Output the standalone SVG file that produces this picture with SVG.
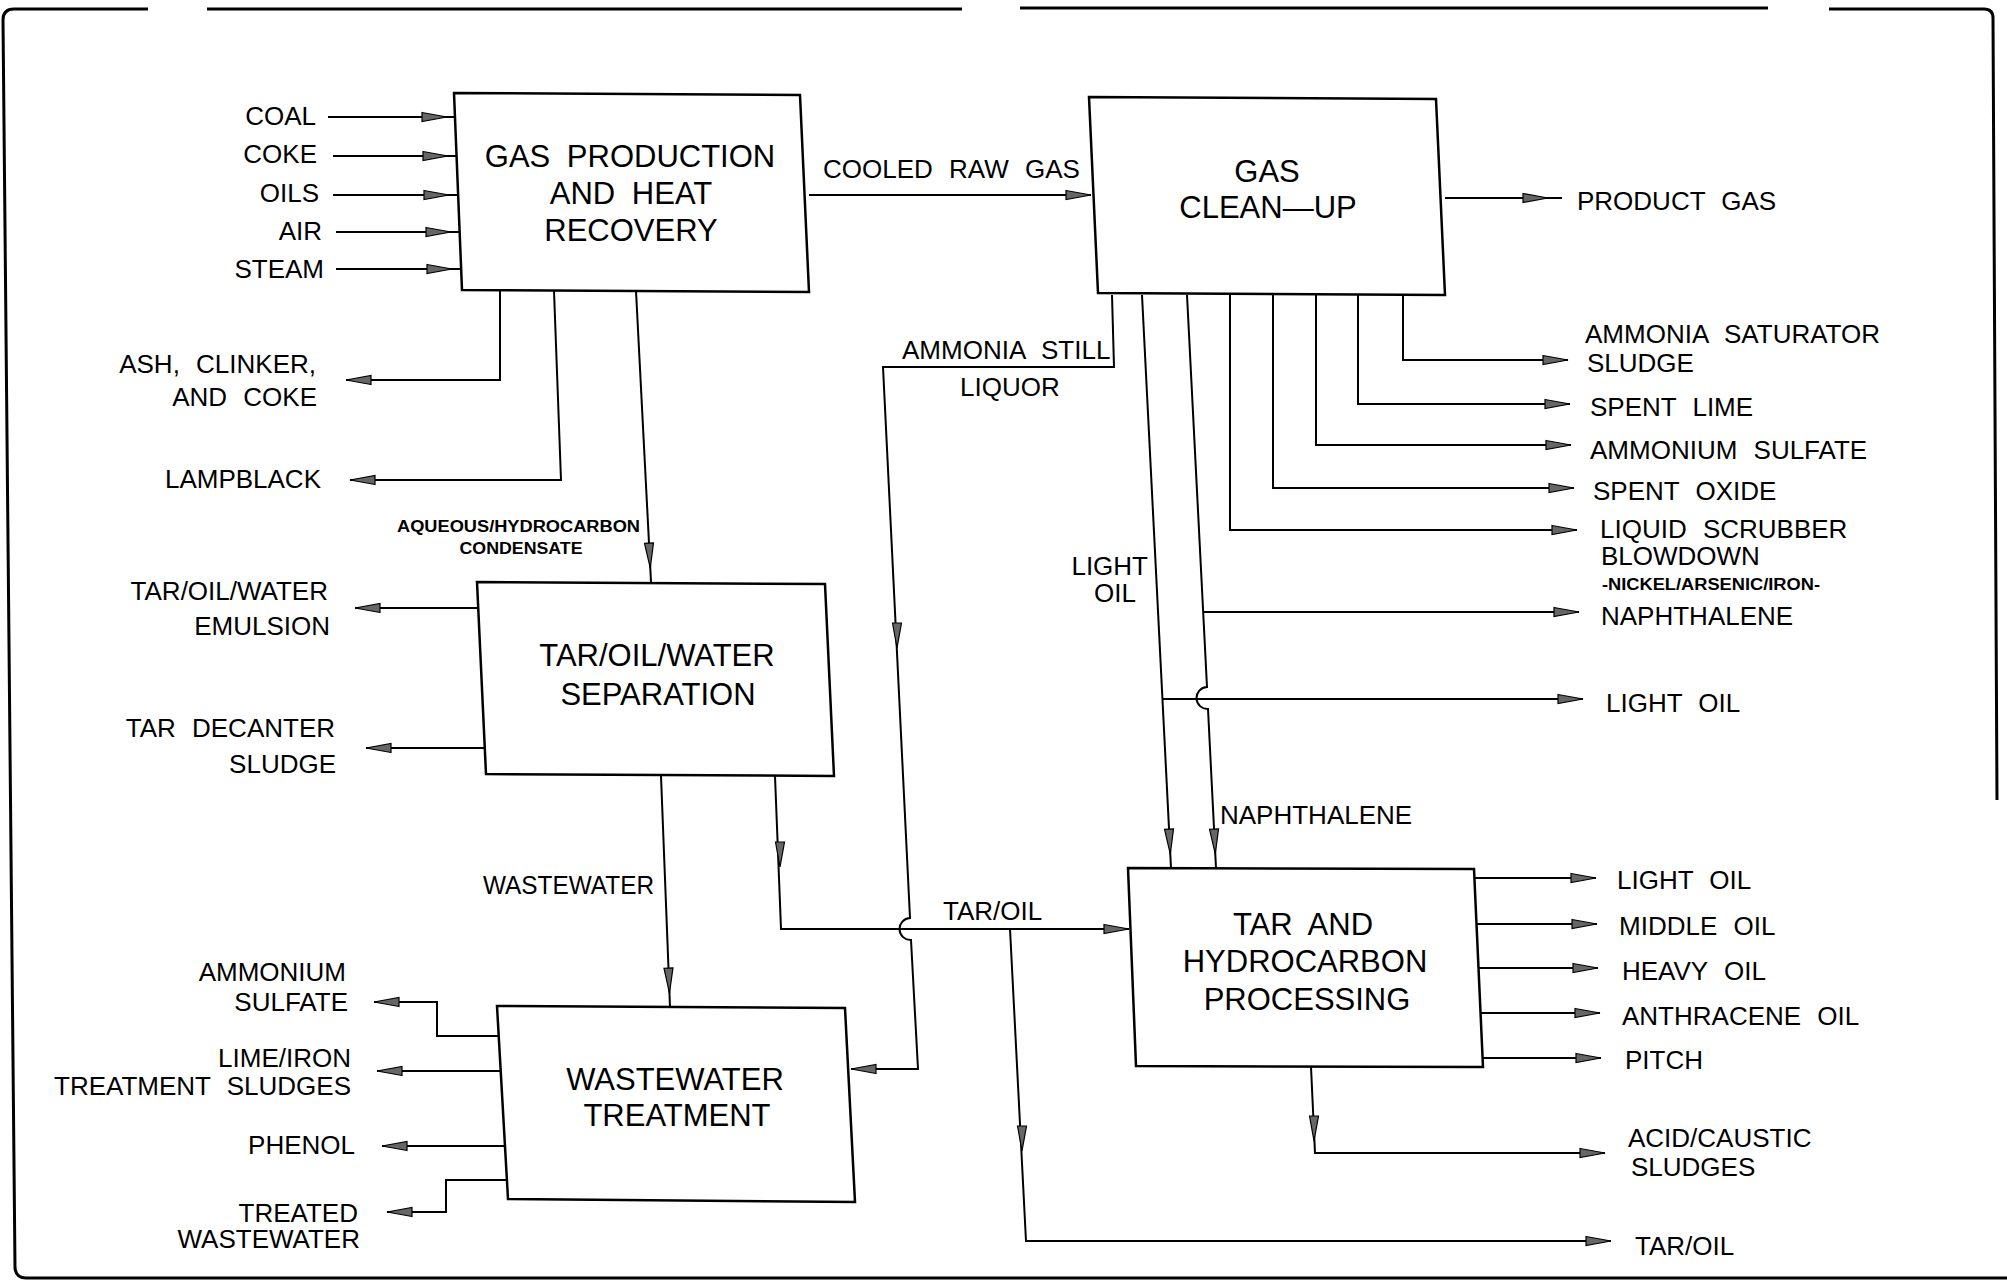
<svg xmlns="http://www.w3.org/2000/svg" xmlns:xlink="http://www.w3.org/1999/xlink" width="2007" height="1281" viewBox="0 0 2007 1281">
<style>
.ln{fill:none;stroke:#000;stroke-width:2}
.bx{fill:#fff;stroke:#000;stroke-width:2.5}
.fr{fill:none;stroke:#000;stroke-width:3}
.ah{fill:#666;stroke:#000;stroke-width:1.2}
text{font-family:'Liberation Sans',Arial,sans-serif;font-size:26px;fill:#000;word-spacing:9px}
.b{font-size:31px;text-anchor:middle;word-spacing:8px}
.e{text-anchor:end}
.m{text-anchor:middle}
.s{font-size:16px;font-weight:bold;word-spacing:0}
</style>
<defs>
<marker id="arr" markerUnits="userSpaceOnUse" viewBox="-1 -1 28 11" markerWidth="28" markerHeight="11" refX="25" refY="4.5" orient="auto" overflow="visible"><path class="ah" d="M0,0 L25,4.5 L0,9 Z"/></marker>
<marker id="arrm" markerUnits="userSpaceOnUse" viewBox="-1 -1 28 11" markerWidth="28" markerHeight="11" refX="39" refY="4.5" orient="auto" overflow="visible"><path class="ah" d="M0,0 L25,4.5 L0,9 Z"/></marker>
<path id="ahd" class="ah" d="M-4.5,-25 L0,0 L4.5,-25 Z"/>
</defs>
<rect width="2007" height="1281" fill="#fff"/>
<g id="frame">
<path class="fr" d="M148,9 H14 Q3,9 3,20 L15,1268 Q16,1278 26,1278 H2007"/>
<path class="fr" d="M207,9 H962 M1020,8 H1768 M1829,9 H1984 Q1993,9 1993,18 L1997,800"/>
</g>
<g id="connectors">
<path class="ln" marker-end="url(#arr)" d="M328,117 H447"/>
<path class="ln" d="M447,117 H455"/>
<path class="ln" marker-end="url(#arr)" d="M333,156 H448"/>
<path class="ln" d="M448,156 H457"/>
<path class="ln" marker-end="url(#arr)" d="M333,195 H449"/>
<path class="ln" d="M449,195 H458"/>
<path class="ln" marker-end="url(#arr)" d="M336,232 H451"/>
<path class="ln" d="M451,232 H460"/>
<path class="ln" marker-end="url(#arr)" d="M336,269 H452"/>
<path class="ln" d="M452,269 H461"/>
<path class="ln" marker-end="url(#arr)" d="M500,291 V380 H346"/>
<path class="ln" marker-end="url(#arr)" d="M554,291 L561,480 H350"/>
<path class="ln" marker-end="url(#arrm)" d="M636,291 L651,582"/>
<path class="ln" marker-end="url(#arr)" d="M809,195 H1091"/>
<path class="ln" marker-end="url(#arrm)" d="M1445,198 H1562"/>
<path class="ln" marker-end="url(#arr)" d="M1403,295 V360 H1568"/>
<path class="ln" marker-end="url(#arr)" d="M1358,295 V404 H1570"/>
<path class="ln" marker-end="url(#arr)" d="M1316,295 V445 H1571"/>
<path class="ln" marker-end="url(#arr)" d="M1273,295 V488 H1574"/>
<path class="ln" marker-end="url(#arr)" d="M1230,295 V530 H1577"/>
<path class="ln" marker-end="url(#arr)" d="M1112,295 L1114,367 H883 L910,918 A11,11 0 0 0 911,940 L918,1069 H851"/>
<path class="ln" marker-end="url(#arrm)" d="M1142,295 L1171,868"/>
<path class="ln" marker-end="url(#arrm)" d="M1187,295 L1207,687 A11,11 0 0 0 1208,709 L1216,868"/>
<path class="ln" marker-end="url(#arr)" d="M1203,612 H1579"/>
<path class="ln" marker-end="url(#arr)" d="M1163,699 H1583"/>
<path class="ln" marker-end="url(#arr)" d="M1474,878 H1596"/>
<path class="ln" marker-end="url(#arr)" d="M1476,924 H1597"/>
<path class="ln" marker-end="url(#arr)" d="M1479,968 H1598"/>
<path class="ln" marker-end="url(#arr)" d="M1481,1013 H1600"/>
<path class="ln" marker-end="url(#arr)" d="M1483,1058 H1601"/>
<path class="ln" marker-end="url(#arr)" d="M1311,1067 L1315,1153 H1605"/>
<path class="ln" marker-end="url(#arr)" d="M1010,929 L1026,1241 H1611"/>
<path class="ln" marker-end="url(#arr)" d="M775,776 L781,929 H1129"/>
<path class="ln" marker-end="url(#arrm)" d="M661,776 L670,1007"/>
<path class="ln" marker-end="url(#arr)" d="M477,608 H355"/>
<path class="ln" marker-end="url(#arr)" d="M486,748 H366"/>
<path class="ln" marker-end="url(#arr)" d="M499,1036 H437 V1002 H374"/>
<path class="ln" marker-end="url(#arr)" d="M501,1071 H377"/>
<path class="ln" marker-end="url(#arr)" d="M505,1146 H382"/>
<path class="ln" marker-end="url(#arr)" d="M507,1180 H446 V1212 H387"/>
<use xlink:href="#ahd" x="897" y="648"/>
<use xlink:href="#ahd" x="780" y="867"/>
<use xlink:href="#ahd" x="1314" y="1141"/>
<use xlink:href="#ahd" x="1022" y="1151"/>
</g>
<g id="gas-production">
<polygon class="bx" points="454,93 800,95 809,292 462,290"/>
<text class="b" x="630" y="167">GAS PRODUCTION</text>
<text class="b" x="631" y="204">AND HEAT</text>
<text class="b" x="631" y="241">RECOVERY</text>
</g>
<g id="gas-cleanup">
<polygon class="bx" points="1089,97 1436,99 1445,295 1098,293"/>
<text class="b" x="1267" y="182">GAS</text>
<text class="b" x="1268" y="218">CLEAN—UP</text>
</g>
<g id="separation">
<polygon class="bx" points="477,582 825,584 834,776 486,774"/>
<text class="b" x="657" y="666">TAR/OIL/WATER</text>
<text class="b" x="658" y="705">SEPARATION</text>
</g>
<g id="wastewater-treatment">
<polygon class="bx" points="497,1006 845,1008 855,1202 508,1199"/>
<text class="b" x="675" y="1090">WASTEWATER</text>
<text class="b" x="677" y="1126">TREATMENT</text>
</g>
<g id="tar-processing">
<polygon class="bx" points="1128,868 1474,869 1483,1067 1136,1066"/>
<text class="b" x="1303" y="935">TAR AND</text>
<text class="b" x="1305" y="972">HYDROCARBON</text>
<text class="b" x="1307" y="1010">PROCESSING</text>
</g>
<g id="labels">
<text class="e" x="316" y="125">COAL</text>
<text class="e" x="317" y="163">COKE</text>
<text class="e" x="319" y="202">OILS</text>
<text class="e" x="322" y="240">AIR</text>
<text class="e" x="324" y="278">STEAM</text>
<text class="e" x="316" y="373">ASH, CLINKER,</text>
<text class="e" x="317" y="406">AND COKE</text>
<text class="e" x="321" y="488">LAMPBLACK</text>
<text class="e" x="328" y="600">TAR/OIL/WATER</text>
<text class="e" x="330" y="635">EMULSION</text>
<text class="e" x="335" y="737">TAR DECANTER</text>
<text class="e" x="336" y="773">SLUDGE</text>
<text class="e" x="346" y="981">AMMONIUM</text>
<text class="e" x="348" y="1011">SULFATE</text>
<text class="e" x="351" y="1067">LIME/IRON</text>
<text class="e" x="351" y="1095">TREATMENT SLUDGES</text>
<text class="e" x="355" y="1154">PHENOL</text>
<text class="e" x="358" y="1222">TREATED</text>
<text class="e" x="360" y="1248">WASTEWATER</text>
<text class="s" x="397" y="532" textLength="243" lengthAdjust="spacingAndGlyphs">AQUEOUS/HYDROCARBON</text>
<text class="s m" x="521" y="554" textLength="123" lengthAdjust="spacingAndGlyphs">CONDENSATE</text>
<text x="823" y="178">COOLED RAW GAS</text>
<text x="902" y="359">AMMONIA STILL</text>
<text x="960" y="396">LIQUOR</text>
<text class="e" x="1148" y="575">LIGHT</text>
<text class="m" x="1115" y="602">OIL</text>
<text class="e" x="654" y="894" textLength="171" lengthAdjust="spacingAndGlyphs">WASTEWATER</text>
<text x="943" y="920">TAR/OIL</text>
<text x="1220" y="824">NAPHTHALENE</text>
<text x="1577" y="210">PRODUCT GAS</text>
<text x="1585" y="343">AMMONIA SATURATOR</text>
<text x="1587" y="372">SLUDGE</text>
<text x="1590" y="416">SPENT LIME</text>
<text x="1590" y="459">AMMONIUM SULFATE</text>
<text x="1593" y="500">SPENT OXIDE</text>
<text x="1600" y="538">LIQUID SCRUBBER</text>
<text x="1601" y="565">BLOWDOWN</text>
<text class="s" x="1602" y="590" font-size="15" textLength="218" lengthAdjust="spacingAndGlyphs">-NICKEL/ARSENIC/IRON-</text>
<text x="1601" y="625">NAPHTHALENE</text>
<text x="1606" y="712">LIGHT OIL</text>
<text x="1617" y="889">LIGHT OIL</text>
<text x="1619" y="935">MIDDLE OIL</text>
<text x="1622" y="980">HEAVY OIL</text>
<text x="1622" y="1025">ANTHRACENE OIL</text>
<text x="1625" y="1069">PITCH</text>
<text x="1628" y="1147">ACID/CAUSTIC</text>
<text x="1631" y="1176">SLUDGES</text>
<text x="1635" y="1255">TAR/OIL</text>
</g>
</svg>
